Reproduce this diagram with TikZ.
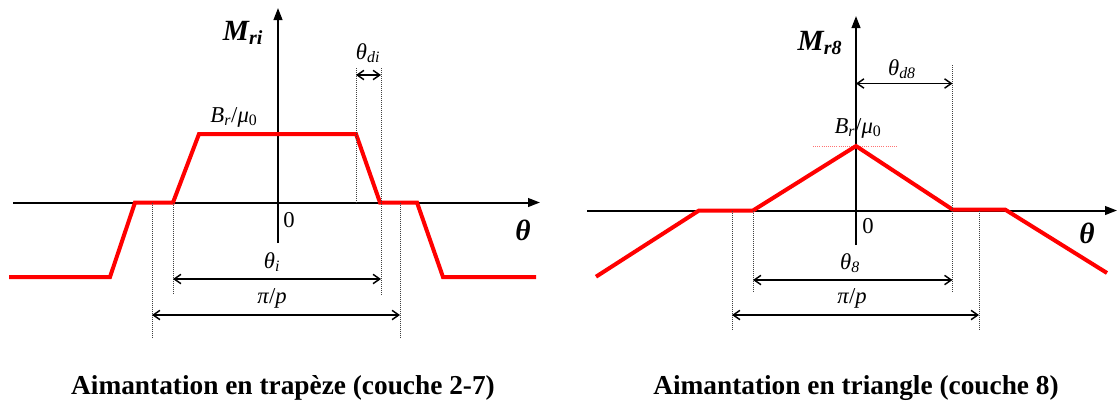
\documentclass[tikz,border=0pt]{standalone}
\usepackage{fontspec}
\setmainfont{Liberation Serif}
\usetikzlibrary{arrows.meta}
\begin{document}
\begin{tikzpicture}[x=0.75pt,y=-0.75pt,
 axis/.style={line width=1.5pt,-{Triangle[length=9pt,width=6.5pt]}},
 curve/.style={red,line width=3pt,line join=miter},
 guide/.style={densely dotted,line width=0.5pt,black!75},
 pinkguide/.style={densely dotted,line width=0.6pt,red!55},
 dim/.style={line width=1.1pt,{Straight Barb[length=5pt,width=7pt]}-{Straight Barb[length=5pt,width=7pt]}},
 lab/.style={font=\fontsize{17}{20}\selectfont, inner sep=0pt},
 big/.style={font=\fontsize{22}{26}\selectfont\bfseries\itshape, inner sep=0pt},
 captext/.style={font=\fontsize{20.5}{24}\selectfont\bfseries, inner sep=0pt}]
\useasboundingbox (0,0) rectangle (1117,405);

% ===== Left diagram =====
\coordinate (lyb) at (278,243);
\coordinate (lyt) at (278,8);
\coordinate (lxl) at (13,202.5);
\coordinate (lxr) at (540,202.5);
\draw[axis] (lyb) -- (lyt);
\draw[axis] (lxl) -- (lxr);

\coordinate (a1) at (9,277);
\coordinate (a2) at (110,277);
\coordinate (a3) at (135,202.5);
\coordinate (a4) at (173,202.5);
\coordinate (a5) at (199,134);
\coordinate (a6) at (356,134);
\coordinate (a7) at (380,202.5);
\coordinate (a8) at (417,202.5);
\coordinate (a9) at (443,277);
\coordinate (a10) at (536,277);
\draw[curve] (a1) -- (a2) -- (a3) -- (a4) -- (a5) -- (a6) -- (a7) -- (a8) -- (a9) -- (a10);

\coordinate (g1t) at (152,202.5); \coordinate (g1b) at (152,338);
\coordinate (g2t) at (173,202.5); \coordinate (g2b) at (173,293);
\coordinate (g3t) at (356,68);    \coordinate (g3b) at (356,202.5);
\coordinate (g4t) at (381,68);    \coordinate (g4b) at (381,295);
\coordinate (g5t) at (400,202.5); \coordinate (g5b) at (400,338);
\foreach \g in {1,...,5} \draw[guide] (g\g t) -- (g\g b);

\coordinate (d1l) at (356,75);  \coordinate (d1r) at (381,75);
\coordinate (d2l) at (173,279); \coordinate (d2r) at (381,279);
\coordinate (d3l) at (152,315); \coordinate (d3r) at (400,315);
\draw[dim] (d1l) -- (d1r);
\draw[dim] (d2l) -- (d2r);
\draw[dim] (d3l) -- (d3r);

\node[big] (lM) at (243,33) {M\textsubscript{\fontsize{15}{18}\selectfont ri}};
\node[lab] (ltdi) at (368,53) {\textit{θ}\textsubscript{\textit{di}}};
\node[lab] (lBr) at (234,117) {\textit{B}\textsubscript{\textit{r}}/\textit{μ}\textsubscript{0}};
\node[lab] (l0) at (289,220) {0};
\node[big] (lth) at (523,230) {θ};
\node[lab] (lti) at (272,262) {\textit{θ}\textsubscript{\textit{i}}};
\node[lab] (lpp) at (272,298) {\textit{π}/\textit{p}};

% ===== Right diagram =====
\coordinate (ryb) at (856,245);
\coordinate (ryt) at (856,16);
\coordinate (rxl) at (587,210.5);
\coordinate (rxr) at (1117,210.5);
\draw[axis] (ryb) -- (ryt);
\draw[axis] (rxl) -- (rxr);

\coordinate (pl) at (813,146); \coordinate (pr) at (897,146);
\draw[pinkguide] (pl) -- (pr);

\coordinate (b1) at (596,276.7);
\coordinate (b2) at (699,210.5);
\coordinate (b3) at (753,210.5);
\coordinate (b4) at (856,146);
\coordinate (b5) at (952.5,209.5);
\coordinate (b6) at (1005,209.5);
\coordinate (b7) at (1107,273);
\draw[curve] (b1) -- (b2) -- (b3) -- (b4) -- (b5) -- (b6) -- (b7);

\coordinate (h1t) at (732,210.5); \coordinate (h1b) at (732,330);
\coordinate (h2t) at (753,210.5); \coordinate (h2b) at (753,292);
\coordinate (h3t) at (952.5,65);  \coordinate (h3b) at (952.5,292);
\coordinate (h4t) at (979,210.5); \coordinate (h4b) at (979,330);
\foreach \g in {1,...,4} \draw[guide] (h\g t) -- (h\g b);

\coordinate (e1l) at (856,83.5); \coordinate (e1r) at (952.5,83.5);
\coordinate (e2l) at (753,280);  \coordinate (e2r) at (952.5,280);
\coordinate (e3l) at (732,315);  \coordinate (e3r) at (979,315);
\draw[dim] (e1l) -- (e1r);
\draw[dim] (e2l) -- (e2r);
\draw[dim] (e3l) -- (e3r);

\node[big] (rM) at (820,43) {M\textsubscript{\fontsize{15}{18}\selectfont r8}};
\node[lab] (rtd8) at (902,69) {\textit{θ}\textsubscript{\textit{d8}}};
\node[lab] (rBr) at (858,128) {\textit{B}\textsubscript{\textit{r}}/\textit{μ}\textsubscript{0}};
\node[lab] (r0) at (868,226) {0};
\node[big] (rth) at (1087,233) {θ};
\node[lab] (rt8) at (850,263) {\textit{θ}\textsubscript{\textit{8}}};
\node[lab] (rpp) at (852,298) {\textit{π}/\textit{p}};

% ===== Captions =====
\node[captext] (capL) at (283,388) {Aimantation en trapèze (couche 2-7)};
\node[captext] (capR) at (856,388) {Aimantation en triangle (couche 8)};
\end{tikzpicture}
\end{document}
